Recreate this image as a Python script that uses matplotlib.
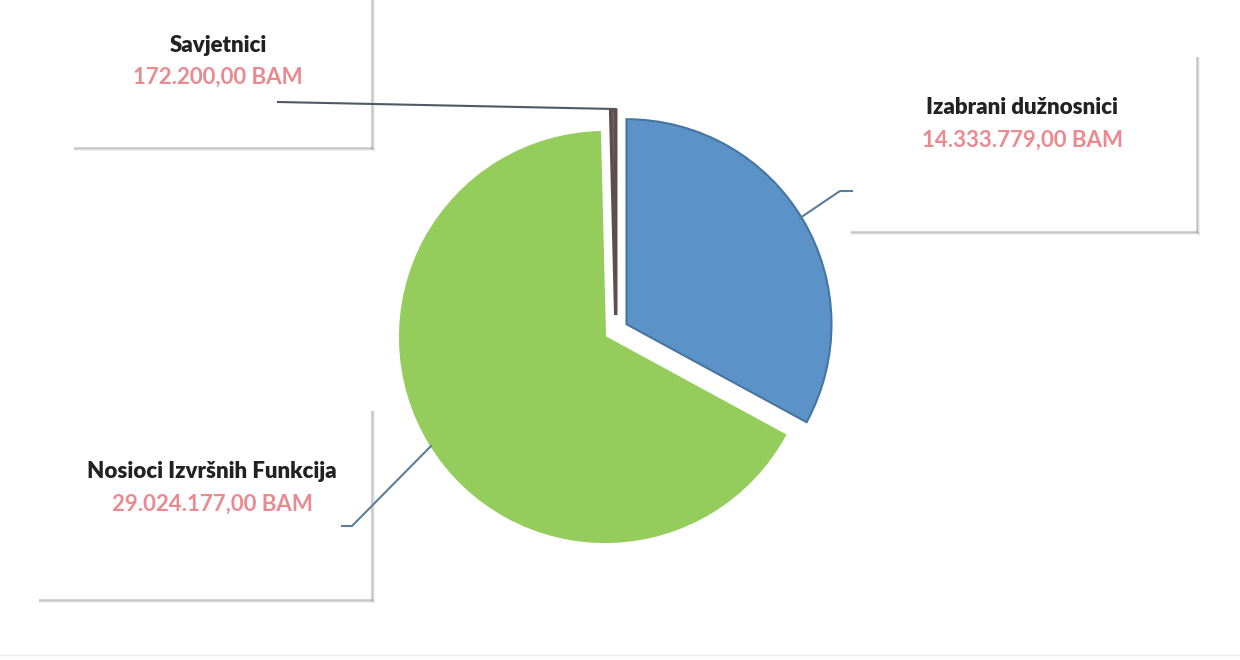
import matplotlib.pyplot as plt
from matplotlib.patches import Rectangle

# podaci
kategorije = ["Izabrani dužnosnici", "Nosioci Izvršnih Funkcija", "Savjetnici"]
iznosi = [14333779.00, 29024177.00, 172200.00]
boje = ["#5b93c9", "#95cd5d", "#756666"]
rubovi = ["#46759f", "#95cd5d", "#5e4f4f"]
izdvajanje = [25, 0, 22]  # u pikselima (radius je u pikselima)


def fmt(v):
    s = f"{v:,.2f}"
    return s.replace(",", "X").replace(".", ",").replace("X", ".") + " BAM"


H = 660
fig = plt.figure(figsize=(12.4, 6.6), dpi=100)
ax = fig.add_axes([0, 0, 1, 1])

# okviri s oznakama (x0, y0_gore, x1, y1_dolje) u pikselima slike
okviri = {
    "Savjetnici": (75, -20, 372, 148),
    "Izabrani dužnosnici": (852, 58, 1197, 232),
    "Nosioci Izvršnih Funkcija": (40, 412, 372, 600),
}
for (x0, y0, x1, y1) in okviri.values():
    ax.add_patch(Rectangle((x0, H - y1), x1 - x0, y1 - y0, facecolor="white", edgecolor="none", zorder=1))
    for i, a in enumerate([0.35, 0.2, 0.1]):
        ax.plot([x1 + i, x1 + i], [H - y0, H - y1 - i], color="#888888", alpha=a, lw=1.5, zorder=1)
        ax.plot([x0, x1 + i], [H - y1 - i, H - y1 - i], color="#888888", alpha=a, lw=1.5, zorder=1)

# pita
klinovi, _ = ax.pie(iznosi, colors=boje, startangle=90, counterclock=False,
                    explode=izdvajanje, radius=205, center=(605, H - 337),
                    frame=True, wedgeprops=dict(linewidth=1.5))
for w, e in zip(klinovi, rubovi):
    w.set_edgecolor(e)
    w.set_zorder(3)
# tanki klin Savjetnici malo desno, kao na izvorniku
cx, cy = klinovi[2].center
klinovi[2].set_center((cx + 11, cy))
klinovi[2].set_linewidth(2.5)

ax.set_xlim(0, 1240)
ax.set_ylim(0, H)
ax.set_aspect("equal")
ax.axis("off")

# linije vodilice
ax.plot([278, 615, 615], [H - 102, H - 109, H - 116], color="#4e5a66", lw=1.5, zorder=2)
ax.plot([852, 840, 800], [H - 191, H - 191, H - 218], color="#5d7c98", lw=1.5, zorder=4)
ax.plot([342, 352, 431], [H - 526, H - 526, H - 446], color="#5d7c98", lw=1.5, zorder=4)

# tekst
pozicije = {
    "Savjetnici": (218, 45),
    "Izabrani dužnosnici": (1022, 108),
    "Nosioci Izvršnih Funkcija": (212, 472),
}
for k, v in zip(kategorije, iznosi):
    x, y = pozicije[k]
    ax.text(x, H - y, k, ha="center", va="center", fontsize=16, fontweight="heavy",
            family="Lato", color="#222222", zorder=5)
    ax.text(x, H - y - 32, fmt(v), ha="center", va="center", fontsize=16, fontweight="bold",
            family="Lato", color="#ea8a90", zorder=5)

ax.plot([0, 1240], [H - 655, H - 655], color="#eeeeee", lw=1, zorder=0)

fig.savefig("out.png", dpi=100)
